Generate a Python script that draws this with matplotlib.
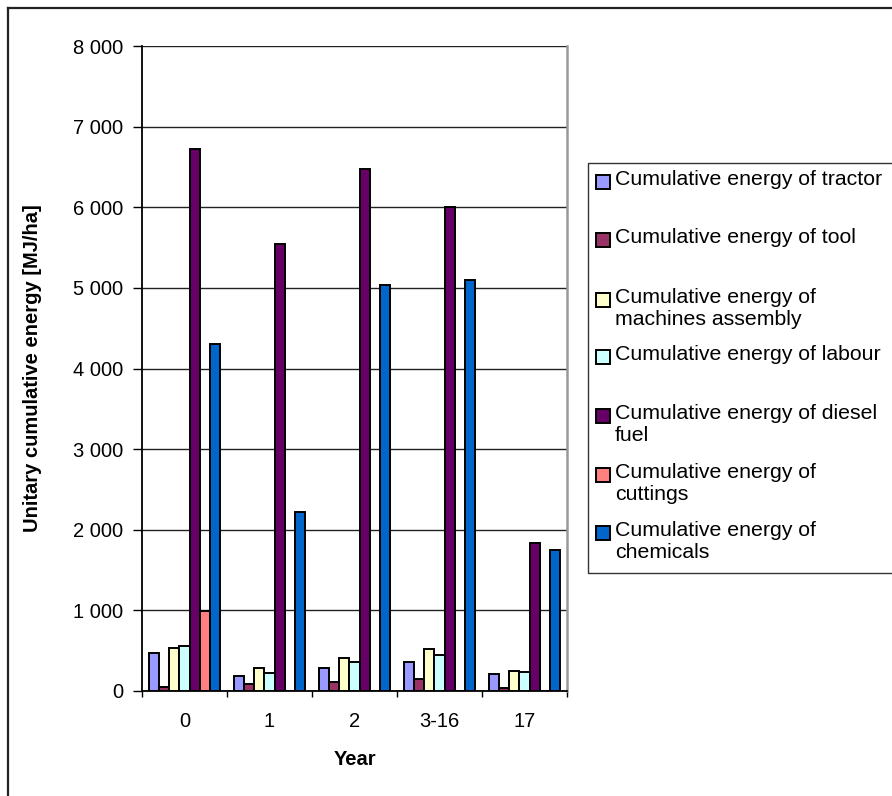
import numpy as np
import matplotlib
matplotlib.use("Agg")
import matplotlib.pyplot as plt
from matplotlib.patches import Rectangle
from matplotlib.lines import Line2D

plt.rcParams['font.family'] = ['Liberation Sans', 'DejaVu Sans']

# energy inputs per year [MJ/ha]
years = ['0', '1', '2', '3-16', '17']
tractor = [470, 185, 285, 360, 210]
tool = [55, 90, 110, 150, 40]
machines = [530, 285, 410, 520, 250]
labour = [555, 225, 360, 445, 235]
diesel = [6720, 5540, 6470, 6000, 1840]
cuttings = [990, 0, 0, 0, 0]
chemicals = [4310, 2220, 5030, 5100, 1750]

labels = ['Cumulative energy of tractor',
          'Cumulative energy of tool',
          'Cumulative energy of\nmachines assembly',
          'Cumulative energy of labour',
          'Cumulative energy of diesel\nfuel',
          'Cumulative energy of\ncuttings',
          'Cumulative energy of\nchemicals']
series = [tractor, tool, machines, labour, diesel, cuttings, chemicals]
colors = ['#9999FF', '#993366', '#FFFFCC', '#CCFFFF', '#660066', '#FF8080', '#0066CC']

fig = plt.figure(figsize=(8.92, 7.96), dpi=100)
ax = fig.add_axes([142 / 892, 1 - 691 / 796, 425 / 892, 645 / 796])

x = np.arange(len(years))
w = 0.119
for i, (vals, col) in enumerate(zip(series, colors)):
    ax.bar(x + (i - 3) * w, vals, width=w, color=col, edgecolor='black',
           linewidth=1.4, zorder=3)

ax.set_xlim(-0.5, len(years) - 0.5)
ax.set_ylim(0, 8000)
ax.set_yticks(np.arange(0, 8001, 1000))
ax.set_yticklabels([f'{v:,}'.replace(',', ' ') for v in range(0, 8001, 1000)])
ax.yaxis.grid(True, color='#222222', linewidth=1.0, zorder=0)
ax.set_axisbelow(True)

ax.set_xticks(x)
ax.set_xticklabels(years)
ax.set_xticks(np.arange(-0.5, len(years)), minor=True)
ax.tick_params(axis='x', which='major', length=0, pad=15, labelsize=14.5)
ax.tick_params(axis='x', which='minor', length=4, width=1.0)
ax.tick_params(axis='y', length=6.5, width=1.0, pad=7, labelsize=14.5)

for s in ['left', 'bottom']:
    ax.spines[s].set_linewidth(1.3)
ax.spines['top'].set_visible(False)
ax.spines['right'].set_color('#999999')
ax.spines['right'].set_linewidth(1.8)

ax.set_xlabel('Year', fontsize=14.5, fontweight='bold', labelpad=14)
ax.set_ylabel('Unitary cumulative energy [MJ/ha]', fontsize=14.5,
              fontweight='bold', labelpad=22)

# legend box drawn in pixel space
def fx(px):
    return px / 892

def fy(py):
    return 1 - py / 796

fig.patches.append(Rectangle((fx(588), fy(573)), fx(320), 410 / 796,
                             transform=fig.transFigure, fill=False,
                             edgecolor='#333333', linewidth=1.0))
entry_tops = [182, 240, 300, 357, 416, 475, 533]
for lab, col, ty in zip(labels, colors, entry_tops):
    fig.patches.append(Rectangle((fx(596), fy(ty + 7)), fx(14), 14 / 796,
                                 transform=fig.transFigure, facecolor=col,
                                 edgecolor='black', linewidth=1.4))
    fig.text(fx(615), fy(ty - 12), lab, fontsize=15.3, va='top', ha='left',
             linespacing=1.2)

# outer chart frame
fig.add_artist(Line2D([fx(8), fx(892)], [fy(8), fy(8)], color='#222222', linewidth=1.6))
fig.add_artist(Line2D([fx(8), fx(8)], [fy(8), fy(796)], color='#222222', linewidth=1.6))

fig.savefig('out.png', dpi=100)
